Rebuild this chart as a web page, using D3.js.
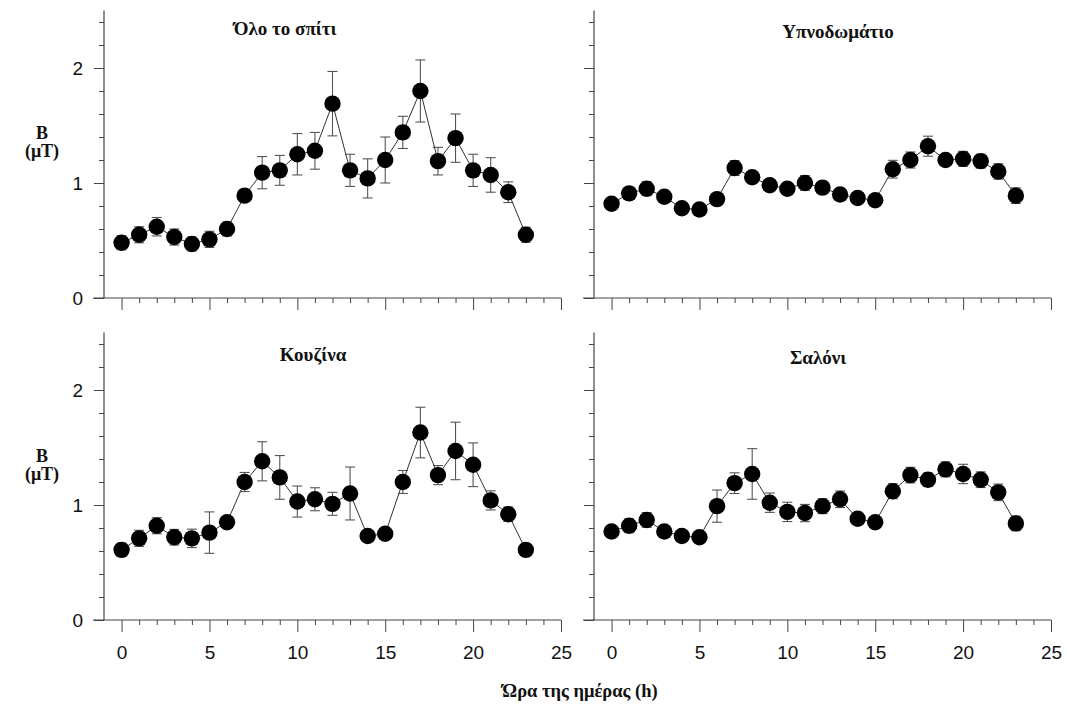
<!DOCTYPE html>
<html>
<head>
<meta charset="utf-8">
<script src="https://cdn.jsdelivr.net/npm/d3@7"></script>
<style>
  html, body { margin: 0; padding: 0; background: #fff; }
  svg { display: block; }
  .tick-label { font-family: "Liberation Sans", Arial, sans-serif; font-size: 19px; fill: #111; }
  .serif-bold { font-family: "Liberation Serif", "Times New Roman", serif; font-weight: bold; fill: #111; }
</style>
</head>
<body>
<svg id="chart" width="1067" height="704"></svg>
<script>
// Hour of day (0–23)
const hours = d3.range(0, 24);

// Mean magnetic flux density B (μT) per hour and its error
const homeMean = [0.48, 0.55, 0.62, 0.53, 0.47, 0.51, 0.60, 0.89, 1.09, 1.11, 1.25, 1.28, 1.69, 1.11, 1.04, 1.20, 1.44, 1.80, 1.19, 1.39, 1.11, 1.07, 0.92, 0.55];
const homeErr  = [0.06, 0.07, 0.08, 0.07, 0.06, 0.07, 0.06, 0.04, 0.14, 0.13, 0.18, 0.16, 0.28, 0.14, 0.17, 0.20, 0.14, 0.27, 0.12, 0.21, 0.14, 0.15, 0.09, 0.065];

const bedroomMean = [0.82, 0.91, 0.95, 0.88, 0.78, 0.77, 0.86, 1.13, 1.05, 0.98, 0.95, 1.00, 0.96, 0.90, 0.87, 0.85, 1.12, 1.20, 1.32, 1.20, 1.21, 1.19, 1.10, 0.89];
const bedroomErr  = [0.03, 0.04, 0.06, 0.04, 0.03, 0.03, 0.03, 0.065, 0.03, 0.03, 0.03, 0.064, 0.03, 0.03, 0.03, 0.03, 0.077, 0.07, 0.087, 0.04, 0.065, 0.06, 0.067, 0.068];

const kitchenMean = [0.61, 0.71, 0.82, 0.72, 0.71, 0.76, 0.85, 1.20, 1.38, 1.24, 1.03, 1.05, 1.01, 1.10, 0.73, 0.75, 1.20, 1.63, 1.26, 1.47, 1.35, 1.04, 0.92, 0.61];
const kitchenErr  = [0.058, 0.07, 0.07, 0.068, 0.08, 0.18, 0.04, 0.083, 0.17, 0.19, 0.135, 0.10, 0.10, 0.23, 0.04, 0.04, 0.10, 0.22, 0.083, 0.25, 0.19, 0.083, 0.062, 0.03];

const livingMean = [0.77, 0.82, 0.87, 0.77, 0.73, 0.72, 0.99, 1.19, 1.27, 1.02, 0.94, 0.93, 0.99, 1.05, 0.88, 0.85, 1.12, 1.26, 1.22, 1.31, 1.27, 1.22, 1.11, 0.84];
const livingErr  = [0.03, 0.06, 0.064, 0.03, 0.03, 0.03, 0.14, 0.09, 0.22, 0.084, 0.084, 0.075, 0.065, 0.072, 0.03, 0.03, 0.065, 0.068, 0.058, 0.065, 0.084, 0.068, 0.072, 0.064];

const panelTitles = ["Όλο το σπίτι", "Υπνοδωμάτιο", "Κουζίνα", "Σαλόνι"];
const xMajorTicks = [0, 5, 10, 15, 20, 25];
const yMajorTicks = [0, 1, 2];
const yTitle = ["B", "(μT)"];
const xTitle = "Ώρα της ημέρας (h)";

const panels = [
  { title: panelTitles[0], mean: homeMean,    err: homeErr,    col: 0, row: 0, titleX: 285, titleY: 35 },
  { title: panelTitles[1], mean: bedroomMean, err: bedroomErr, col: 1, row: 0, titleX: 838, titleY: 38 },
  { title: panelTitles[2], mean: kitchenMean, err: kitchenErr, col: 0, row: 1, titleX: 313, titleY: 361 },
  { title: panelTitles[3], mean: livingMean,  err: livingErr,  col: 1, row: 1, titleX: 818, titleY: 364 }
];

const colX = [[104, 561], [594, 1051]];
const rowY = [[298, 10.5], [620, 332.5]];

const svg = d3.select("#chart");
const axisColor = "#444";

panels.forEach(p => {
  const x = d3.scaleLinear().domain([-1, 25]).range(colX[p.col]);
  const y = d3.scaleLinear().domain([0, 2.5]).range(rowY[p.row]);
  const g = svg.append("g");

  const x0 = x.range()[0], x1 = x.range()[1];
  const y0 = y.range()[0], y1 = y.range()[1];

  // y axis: minor ticks every 0.2, major ticks at integers
  const yMinor = d3.range(0.2, 2.5, 0.2).filter(v => Math.abs(v - Math.round(v)) > 1e-6);
  g.append("g").attr("transform", `translate(${x0},0)`)
    .call(d3.axisLeft(y).tickValues(yMinor).tickSize(5).tickFormat(""))
    .call(a => a.select(".domain").remove())
    .call(a => a.selectAll("line").attr("stroke", axisColor));
  const yMaj = g.append("g").attr("transform", `translate(${x0},0)`)
    .call(d3.axisLeft(y).tickValues(yMajorTicks).tickSize(10).tickPadding(11).tickFormat(d3.format("d")))
    .call(a => a.select(".domain").remove())
    .call(a => a.selectAll("line").attr("stroke", axisColor));
  yMaj.selectAll("text").attr("class", "tick-label").attr("font-size", null).attr("font-family", null)
    .style("visibility", p.col === 0 ? "visible" : "hidden");

  // x axis: minor ticks every hour, major every 5 h
  const xMinor = d3.range(0, 26).filter(v => v % 5 !== 0);
  g.append("g").attr("transform", `translate(0,${y0})`)
    .call(d3.axisBottom(x).tickValues(xMinor).tickSize(5).tickFormat(""))
    .call(a => a.select(".domain").remove())
    .call(a => a.selectAll("line").attr("stroke", axisColor));
  const xMaj = g.append("g").attr("transform", `translate(0,${y0})`)
    .call(d3.axisBottom(x).tickValues(xMajorTicks).tickSize(12).tickPadding(14).tickFormat(d3.format("d")))
    .call(a => a.select(".domain").remove())
    .call(a => a.selectAll("line").attr("stroke", axisColor));
  xMaj.selectAll("text").attr("class", "tick-label").attr("font-size", null).attr("font-family", null)
    .style("visibility", p.row === 1 ? "visible" : "hidden");

  // axis lines
  g.append("line").attr("x1", x0 - 11).attr("x2", x1).attr("y1", y0).attr("y2", y0)
    .attr("stroke", axisColor).attr("stroke-width", 1.2);
  g.append("line").attr("x1", x0).attr("x2", x0).attr("y1", y0).attr("y2", y1)
    .attr("stroke", axisColor).attr("stroke-width", 1.2);

  const pts = hours.map((h, i) => ({ h, v: p.mean[i], e: p.err[i] }));

  // error bars
  const eb = g.append("g").attr("stroke", "#555").attr("stroke-width", 1.1);
  pts.forEach(d => {
    eb.append("line").attr("x1", x(d.h)).attr("x2", x(d.h)).attr("y1", y(d.v - d.e)).attr("y2", y(d.v + d.e));
    [d.v - d.e, d.v + d.e].forEach(v => {
      eb.append("line").attr("x1", x(d.h) - 5).attr("x2", x(d.h) + 5).attr("y1", y(v)).attr("y2", y(v));
    });
  });

  // connecting line
  g.append("path").datum(pts)
    .attr("fill", "none").attr("stroke", "#333").attr("stroke-width", 1)
    .attr("d", d3.line().x(d => x(d.h)).y(d => y(d.v)));

  // markers
  g.selectAll("circle").data(pts).join("circle")
    .attr("cx", d => x(d.h)).attr("cy", d => y(d.v)).attr("r", 8.2)
    .attr("fill", "#000");

  // panel title
  g.append("text").attr("class", "serif-bold").attr("x", p.titleX).attr("y", p.titleY)
    .attr("text-anchor", "middle").attr("font-size", 19).text(p.title);
});

// y axis titles
[[139, 157], [462, 480]].forEach(([yb, ym]) => {
  svg.append("text").attr("class", "serif-bold").attr("x", 42).attr("y", yb)
    .attr("text-anchor", "middle").attr("font-size", 18).text(yTitle[0]);
  svg.append("text").attr("class", "serif-bold").attr("x", 42).attr("y", ym)
    .attr("text-anchor", "middle").attr("font-size", 18).text(yTitle[1]);
});

// x axis title
svg.append("text").attr("class", "serif-bold").attr("x", 580).attr("y", 697)
  .attr("text-anchor", "middle").attr("font-size", 18.5).text(xTitle);
</script>
</body>
</html>
